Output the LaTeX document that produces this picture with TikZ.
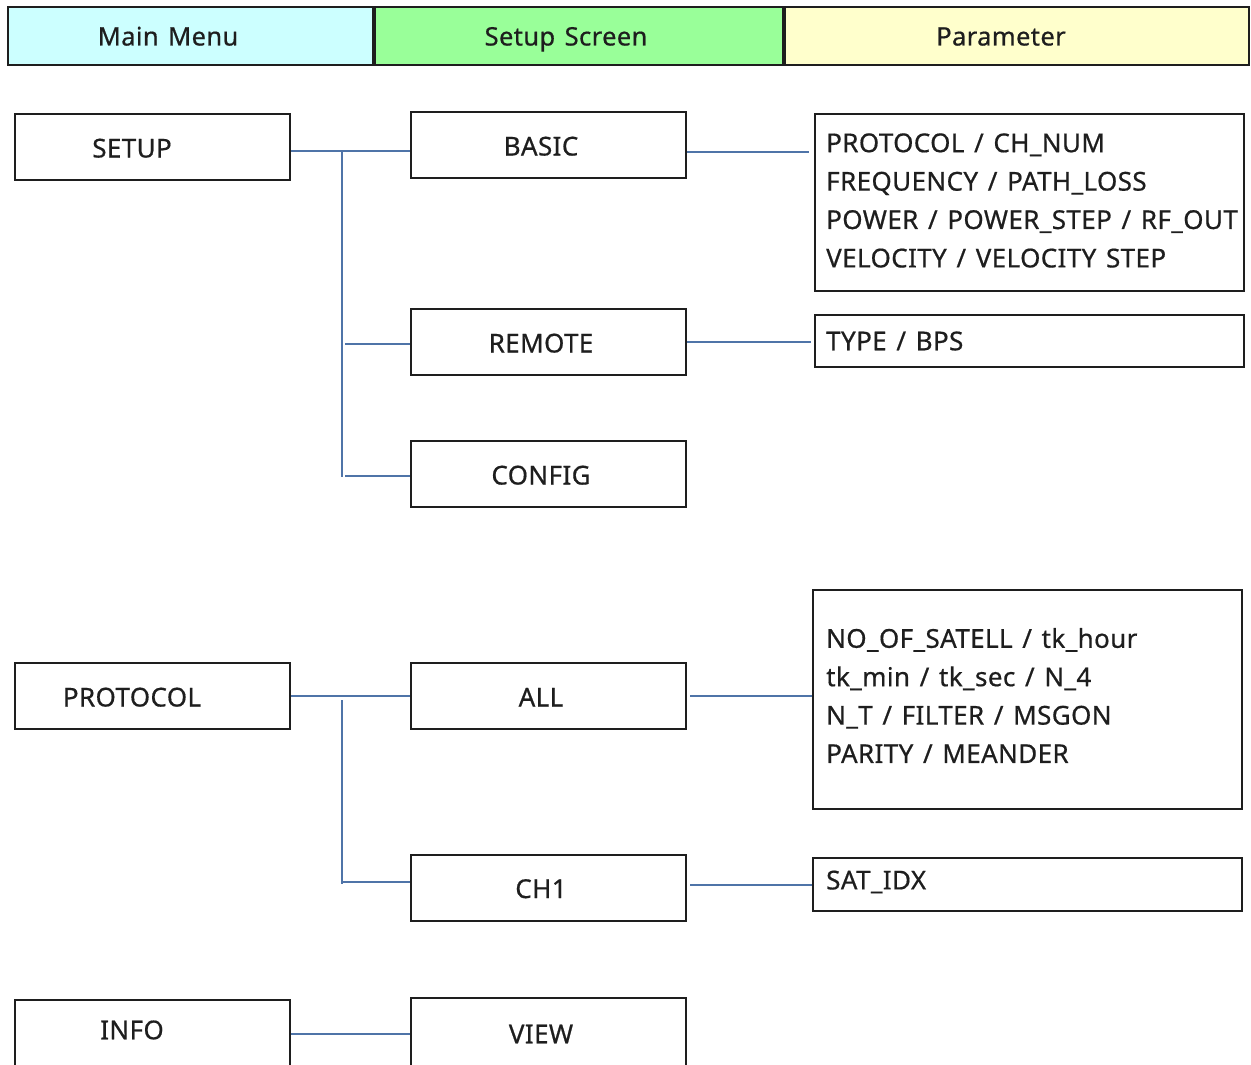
\documentclass[tikz,border=0pt]{standalone}
\usepackage{fontspec}
\setmainfont{Noto Sans}[FakeBold=0.6, LetterSpace=1.5, WordSpace=1.35]
\definecolor{menucyan}{HTML}{CCFFFF}
\definecolor{setupgreen}{HTML}{99FF99}
\definecolor{paramyellow}{HTML}{FFFFCC}
\definecolor{linkblue}{HTML}{4F74A8}
\definecolor{ink}{HTML}{1E1E1E}
\begin{document}
\begin{tikzpicture}[x=1pt,y=-1pt,
  every node/.style={font=\fontsize{26}{38.4}\selectfont, text=ink},
  lshift/.style={execute at begin node={\hspace*{-#1}}},
  header/.style={draw=ink, line width=2pt, minimum height=58pt, inner sep=0pt,
    text height=20pt, text depth=1pt, font=\fontsize{25.5}{30}\selectfont},
  menubox/.style={draw=ink, line width=2pt, minimum width=275pt, minimum height=66pt, inner sep=0pt,
    text height=22pt, text depth=1pt},
  parambox/.style={draw=ink, line width=2pt, minimum width=429pt, inner sep=0pt},
  paramtext/.style={anchor=west, align=left, inner sep=0pt},
  link/.style={draw=linkblue, line width=1.3pt}
]
\useasboundingbox (0,0) rectangle (1251,1065);
\begin{scope}
\clip (0,0) rectangle (1251,1065);

% column headers
\node[header, fill=menucyan, minimum width=365pt, lshift=45pt] (hmain) at (190.5,36) {Main Menu};
\node[header, fill=setupgreen, minimum width=408pt, lshift=26pt] (hsetup) at (579,36) {Setup Screen};
\node[header, fill=paramyellow, minimum width=464pt, lshift=32pt] (hparam) at (1017,36) {Parameter};

% main menu entries
\node[menubox, lshift=41pt] (setup) at (152.5,147) {SETUP};
\node[menubox, lshift=41pt] (protocol) at (152.5,696) {PROTOCOL};
\node[menubox, minimum height=80pt] (info) at (152.5,1040) {};
\node[lshift=41pt, inner sep=0pt] (infotext) at (152.5,1030) {INFO};

% setup screens
\node[menubox, lshift=15pt] (basic) at (548.5,145) {BASIC};
\node[menubox, lshift=15pt] (remote) at (548.5,342) {REMOTE};
\node[menubox, lshift=15pt] (config) at (548.5,474) {CONFIG};
\node[menubox, lshift=15pt] (all) at (548.5,696) {ALL};
\node[menubox, lshift=15pt] (ch1) at (548.5,887.5) {CH1};
\node[menubox, minimum height=80pt] (view) at (548.5,1038) {};
\node[lshift=15pt, inner sep=0pt] (viewtext) at (548.5,1034) {VIEW};

% parameter lists
\node[parambox, minimum height=177pt] (pbasic) at (1029.5,202.5) {};
\node[paramtext] (pbasictext) at (826,200.5)
  {PROTOCOL / CH\_NUM\\FREQUENCY / PATH\_LOSS\\POWER / POWER\_STEP / RF\_OUT\\VELOCITY / VELOCITY STEP};
\node[parambox, minimum height=52pt] (premote) at (1029.5,341) {};
\node[paramtext] (premotetext) at (826,341) {TYPE / BPS};
\node[parambox, minimum height=219pt] (pall) at (1027.5,699.5) {};
\node[paramtext] (palltext) at (826,695.5)
  {NO\_OF\_SATELL / tk\_hour\\tk\_min / tk\_sec / N\_4\\N\_T / FILTER / MSGON\\PARITY / MEANDER};
\node[parambox, minimum height=53pt] (pch1) at (1027.5,884.5) {};
\node[paramtext] (pch1text) at (826,882) {SAT\_IDX};

% connector junctions
\coordinate (sjoin) at (342,151);
\coordinate (pjoin) at (342,700);

% SETUP branch
\draw[link] (setup.east |- 0,151) -- (basic.west |- 0,151);
\draw[link] (sjoin) -- (342,477);
\draw[link] (345,344) -- (remote.west |- 0,344);
\draw[link] (345,476) -- (config.west |- 0,476);
\draw[link] (basic.east |- 0,152) -- (809,152);
\draw[link] (remote.east |- 0,342) -- (811,342);

% PROTOCOL branch
\draw[link] (protocol.east |- 0,696) -- (all.west |- 0,696);
\draw[link] (pjoin) -- (342,884);
\draw[link] (342,882) -- (ch1.west |- 0,882);
\draw[link] (690,696) -- (pall.west |- 0,696);
\draw[link] (690,885) -- (pch1.west |- 0,885);

% INFO branch
\draw[link] (info.east |- 0,1034) -- (view.west |- 0,1034);
\end{scope}
\end{tikzpicture}
\end{document}
